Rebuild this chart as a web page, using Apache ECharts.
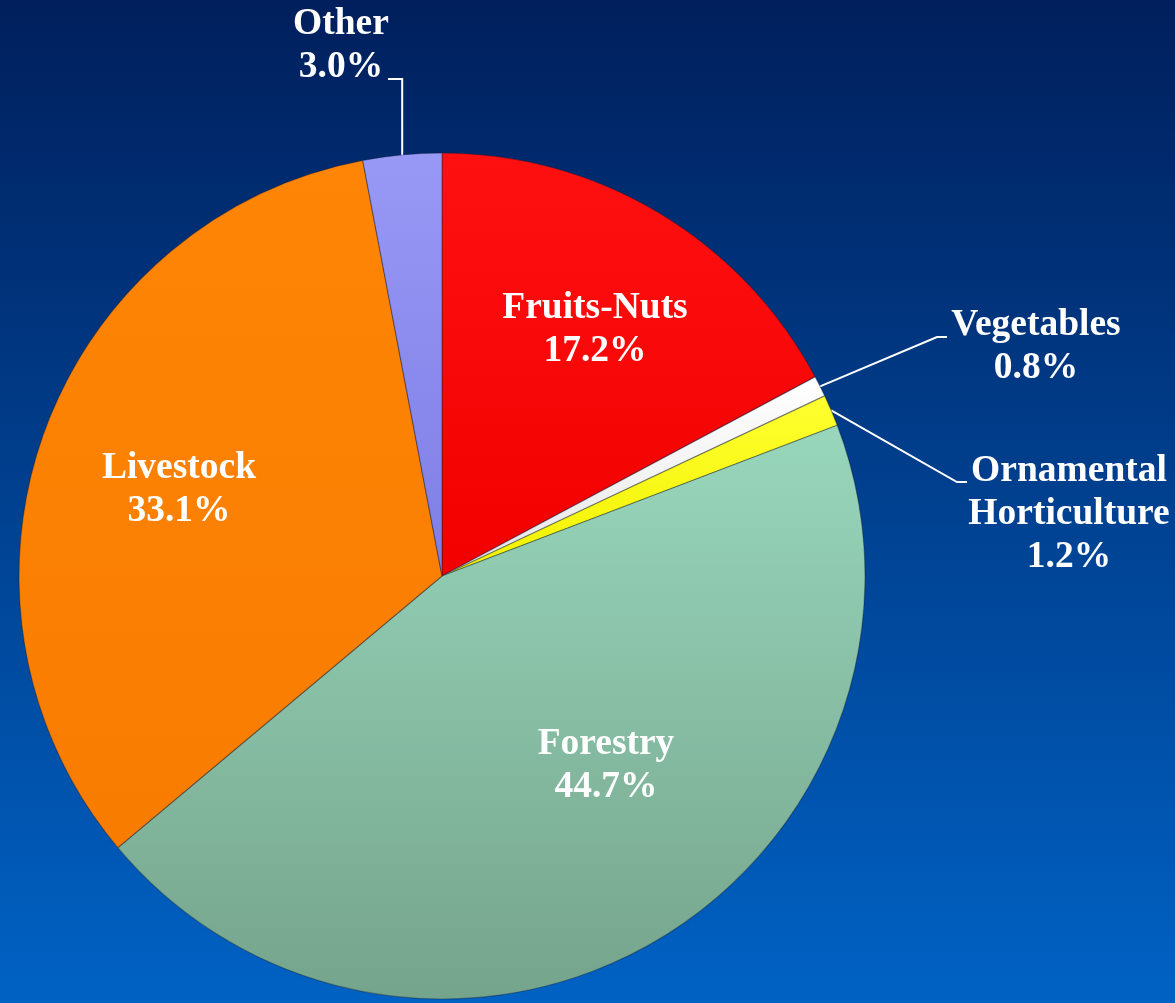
<!DOCTYPE html>
<html>
<head>
<meta charset="utf-8">
<style>
  html, body { margin: 0; padding: 0; width: 1175px; height: 1003px; overflow: hidden; }
  #chart { width: 1175px; height: 1003px; }
</style>
<script src="https://cdn.jsdelivr.net/npm/echarts@6/dist/echarts.min.js"></script>
</head>
<body>
<div id="chart"></div>
<script>
// ---- Data ----
const categories = ['Fruits-Nuts', 'Vegetables', 'Ornamental Horticulture', 'Forestry', 'Livestock', 'Other'];
const shares = [17.2, 0.8, 1.2, 44.7, 33.1, 3.0];

// ---- Styles ----
const sliceColors = {
  'Fruits-Nuts': ['#FF1010', '#F20000'],
  'Vegetables': ['#FFFFFF', '#E6E6E6'],
  'Ornamental Horticulture': ['#FFFF30', '#F2F200'],
  'Forestry': ['#98D7BC', '#75A48C'],
  'Livestock': ['#FF8506', '#F77C00'],
  'Other': ['#9898F6', '#7E7EE6']
};
// label anchor positions (text block centres) and leader-line geometry
const labelPos = {
  'Fruits-Nuts': { x: 595, y: 330 },
  'Vegetables': { x: 1036, y: 347, elbow: [937, 337], end: [947, 337] },
  'Ornamental Horticulture': { x: 1069, y: 514, elbow: [957, 482], end: [967, 482] },
  'Forestry': { x: 606, y: 766 },
  'Livestock': { x: 179, y: 490 },
  'Other': { x: 341, y: 46, vertical: 79, end: [388, 79] }
};
const outsideLabels = ['Vegetables', 'Ornamental Horticulture', 'Other'];

const chart = echarts.init(document.getElementById('chart'), null, { renderer: 'canvas' });

const seriesData = categories.map((name, i) => {
  const c = sliceColors[name];
  const outside = outsideLabels.includes(name);
  return {
    name: name,
    value: shares[i],
    itemStyle: {
      color: new echarts.graphic.LinearGradient(0, 0, 0, 1, [
        { offset: 0, color: c[0] },
        { offset: 1, color: c[1] }
      ])
    },
    label: { position: outside ? 'outside' : 'inside' },
    labelLine: { show: outside }
  };
});

const option = {
  backgroundColor: new echarts.graphic.LinearGradient(0, 0, 0, 1, [
    { offset: 0, color: '#001F5C' },
    { offset: 1, color: '#0062C4' }
  ]),
  animation: false,
  series: [{
    type: 'pie',
    center: [442, 576],
    radius: [0, 423],
    startAngle: 90,
    clockwise: true,
    avoidLabelOverlap: false,
    data: seriesData,
    itemStyle: {
      borderColor: 'rgba(20,20,40,0.35)',
      borderWidth: 1.2
    },
    label: {
      show: true,
      color: '#FFFFFF',
      fontFamily: '"Liberation Serif", "Times New Roman", serif',
      fontWeight: 'bold',
      fontSize: 37.5,
      lineHeight: 43,
      align: 'center',
      overflow: 'none',
      formatter: p => p.name.replace(' ', '\n') + '\n' + p.value.toFixed(1) + '%'
    },
    labelLine: {
      show: true,
      lineStyle: { color: '#FFFFFF', width: 2 },
      length: 20,
      length2: 10
    },
    labelLayout: function (params) {
      const name = categories[params.dataIndex];
      const pos = labelPos[name];
      const out = { x: pos.x, y: pos.y, align: 'center', verticalAlign: 'middle' };
      if (params.labelLinePoints && outsideLabels.includes(name)) {
        const start = params.labelLinePoints[0];
        if (pos.vertical !== undefined) {
          out.labelLinePoints = [start, [start[0], pos.vertical], pos.end];
        } else {
          out.labelLinePoints = [start, pos.elbow, pos.end];
        }
      }
      return out;
    }
  }]
};

chart.setOption(option);
</script>
</body>
</html>
